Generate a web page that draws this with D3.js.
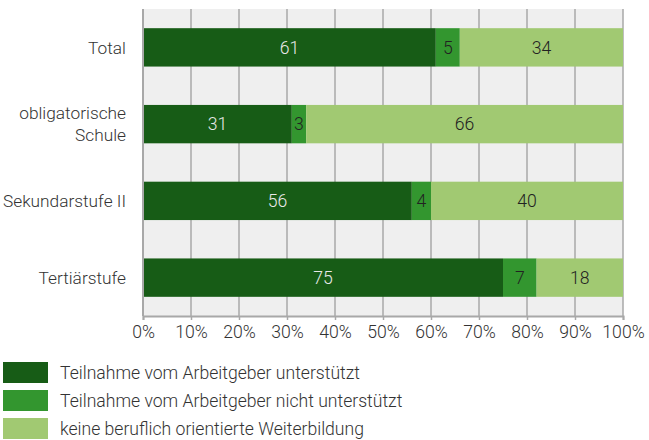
<!DOCTYPE html>
<html>
<head>
<meta charset="utf-8">
<script src="https://cdn.jsdelivr.net/npm/d3@7"></script>
<style>
  body { margin: 0; background: #fff; }
  text { font-family: Roboto, "Noto Sans", sans-serif; }
</style>
</head>
<body>
<div id="chart"></div>
<script>
// categories (top to bottom)
const categories = [["Total"], ["obligatorische", "Schule"], ["Sekundarstufe II"], ["Tertiärstufe"]];
const seriesNames = [
    "Teilnahme vom Arbeitgeber unterstützt",
    "Teilnahme vom Arbeitgeber nicht unterstützt",
    "keine beruflich orientierte Weiterbildung"
];
const supported = [61, 31, 56, 75];
const notSupported = [5, 3, 4, 7];
const noTraining = [34, 66, 40, 18];
const xTicks = [0, 10, 20, 30, 40, 50, 60, 70, 80, 90, 100];

const colors = ["#175c16", "#33962f", "#a1c972"];
const labelColors = ["#e8e8e8", "#222", "#222"];

const width = 649;
const height = 440;
const margin = { top: 9, right: 26, bottom: 124, left: 143 };
const fontSize = "17.6px";
const catFontSize = "17.3px";

const svg = d3.select("#chart")
    .append("svg")
    .attr("width", width)
    .attr("height", height);

const catKeys = categories.map(function(c) { return c.join(" "); });

//build stacked rows
const rows = catKeys.map(function(k, i) {
    return { key: k, values: [supported[i], notSupported[i], noTraining[i]] };
});

const x = d3.scaleLinear()
    .domain([0, 100])
    .range([margin.left, width - margin.right]);

const y = d3.scaleBand()
    .domain(catKeys)
    .range([margin.top, height - margin.bottom])
    .paddingInner(0.5)
    .paddingOuter(0.25);

//background
svg.append("rect")
    .attr("x", x(0))
    .attr("y", margin.top)
    .attr("width", x(100) - x(0))
    .attr("height", height - margin.bottom - margin.top)
    .attr("fill", "#efefef");

//vertical grid
svg.append("g")
    .selectAll("line")
    .data(xTicks)
    .enter()
    .append("line")
    .attr("x1", function(d) { return x(d); })
    .attr("x2", function(d) { return x(d); })
    .attr("y1", margin.top)
    .attr("y2", height - margin.bottom)
    .attr("stroke", "#a8a8a8")
    .attr("stroke-width", 1.5);

//bars
const rowG = svg.selectAll(".row")
    .data(rows)
    .enter()
    .append("g")
    .attr("class", "row");

rowG.each(function(r) {
    let acc = 0;
    const g = d3.select(this);
    r.values.forEach(function(v, j) {
        const x0 = x(acc);
        const x1 = x(acc + v);
        g.append("rect")
            .attr("x", x0)
            .attr("y", y(r.key))
            .attr("width", x1 - x0)
            .attr("height", y.bandwidth())
            .attr("fill", colors[j]);
        g.append("text")
            .attr("x", (x0 + x1) / 2)
            .attr("y", y(r.key) + y.bandwidth() / 2)
            .attr("dy", "0.36em")
            .attr("text-anchor", "middle")
            .attr("font-size", fontSize)
            .attr("font-weight", 300)
            .attr("fill", labelColors[j])
            .text(v);
        acc += v;
    });
});

//x axis
const xAxis = svg.append("g")
    .attr("transform", "translate(0," + (height - margin.bottom) + ")")
    .call(d3.axisBottom(x).tickValues(xTicks).tickSize(4).tickFormat(function(d) { return d + "%"; }));
xAxis.select(".domain").attr("stroke", "#a8a8a8").attr("stroke-width", 2);
xAxis.selectAll(".tick line").attr("stroke", "#a8a8a8").attr("stroke-width", 1.5);
xAxis.selectAll("text")
    .attr("y", 10)
    .attr("font-size", fontSize)
    .attr("font-weight", 300)
    .attr("fill", "#333");

//left axis line
svg.append("line")
    .attr("x1", x(0))
    .attr("x2", x(0))
    .attr("y1", margin.top)
    .attr("y2", height - margin.bottom)
    .attr("stroke", "#a8a8a8")
    .attr("stroke-width", 2);

//category labels
categories.forEach(function(lines, i) {
    const cy = y(catKeys[i]) + y.bandwidth() / 2;
    const t = svg.append("text")
        .attr("x", margin.left - 17)
        .attr("y", cy)
        .attr("text-anchor", "end")
        .attr("font-size", catFontSize)
        .attr("font-weight", 300)
        .attr("fill", "#333");
    lines.forEach(function(line, k) {
        t.append("tspan")
            .attr("x", margin.left - 17)
            .attr("y", cy + (k - (lines.length - 1) / 2) * 22)
            .attr("dy", "0.36em")
            .text(line);
    });
});

//legend
const legend = svg.append("g")
    .attr("transform", "translate(3,362)");

seriesNames.forEach(function(name, i) {
    legend.append("rect")
        .attr("x", 0)
        .attr("y", i * 28)
        .attr("width", 45)
        .attr("height", 21)
        .attr("fill", colors[i]);
    legend.append("text")
        .attr("x", 57)
        .attr("y", i * 28 + 10.5)
        .attr("dy", "0.36em")
        .attr("font-size", fontSize)
        .attr("font-weight", 300)
        .attr("fill", "#333")
        .text(name);
});
</script>
</body>
</html>
